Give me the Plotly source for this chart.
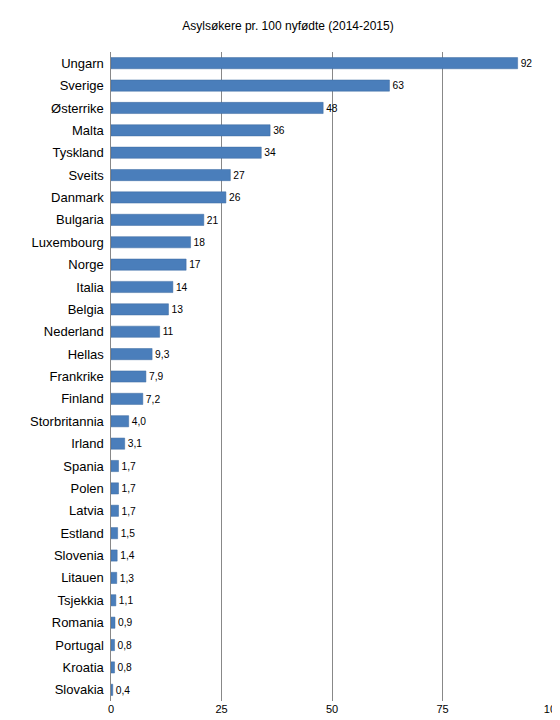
import plotly.graph_objects as go

countries = ["Ungarn", "Sverige", "Østerrike", "Malta", "Tyskland", "Sveits", "Danmark",
             "Bulgaria", "Luxembourg", "Norge", "Italia", "Belgia", "Nederland", "Hellas",
             "Frankrike", "Finland", "Storbritannia", "Irland", "Spania", "Polen", "Latvia",
             "Estland", "Slovenia", "Litauen", "Tsjekkia", "Romania", "Portugal", "Kroatia",
             "Slovakia"]
values = [92, 63, 48, 36, 34, 27, 26, 21, 18, 17, 14, 13, 11, 9.3, 7.9, 7.2, 4.0, 3.1,
          1.7, 1.7, 1.7, 1.5, 1.4, 1.3, 1.1, 0.9, 0.8, 0.8, 0.4]
labels = [f"{v:.0f}" if v >= 10 else f"{v:.1f}".replace(".", ",") for v in values]

fig = go.Figure(go.Bar(
    x=values, y=countries, orientation="h",
    marker=dict(color="#4a7ebb", line=dict(color="#3d6aa0", width=0.5)),
    text=labels, textposition="outside", cliponaxis=False,
    textfont=dict(size=11, color="#000"),
))
fig.update_layout(
    width=560, height=720,
    margin=dict(l=103, r=15, t=44, b=27, autoexpand=False),
    title=dict(text="Asylsøkere pr. 100 nyfødte (2014-2015)", x=0.5, y=0.975,
               xanchor="center", yanchor="middle", font=dict(size=12, color="#000")),
    font=dict(family="Liberation Sans, Arial", color="#000"),
    plot_bgcolor="white", paper_bgcolor="white",
    bargap=0.5, showlegend=False,
    xaxis=dict(range=[0, 100], tickvals=[0, 25, 50, 75, 100], showgrid=True,
               gridcolor="#888", gridwidth=1, zeroline=False, tickfont=dict(size=11),
               showline=False),
    yaxis=dict(autorange="reversed", tickfont=dict(size=13), showline=True,
               linecolor="#888", ticks="", ticksuffix=" "),
)
fig.write_html("out.html")
